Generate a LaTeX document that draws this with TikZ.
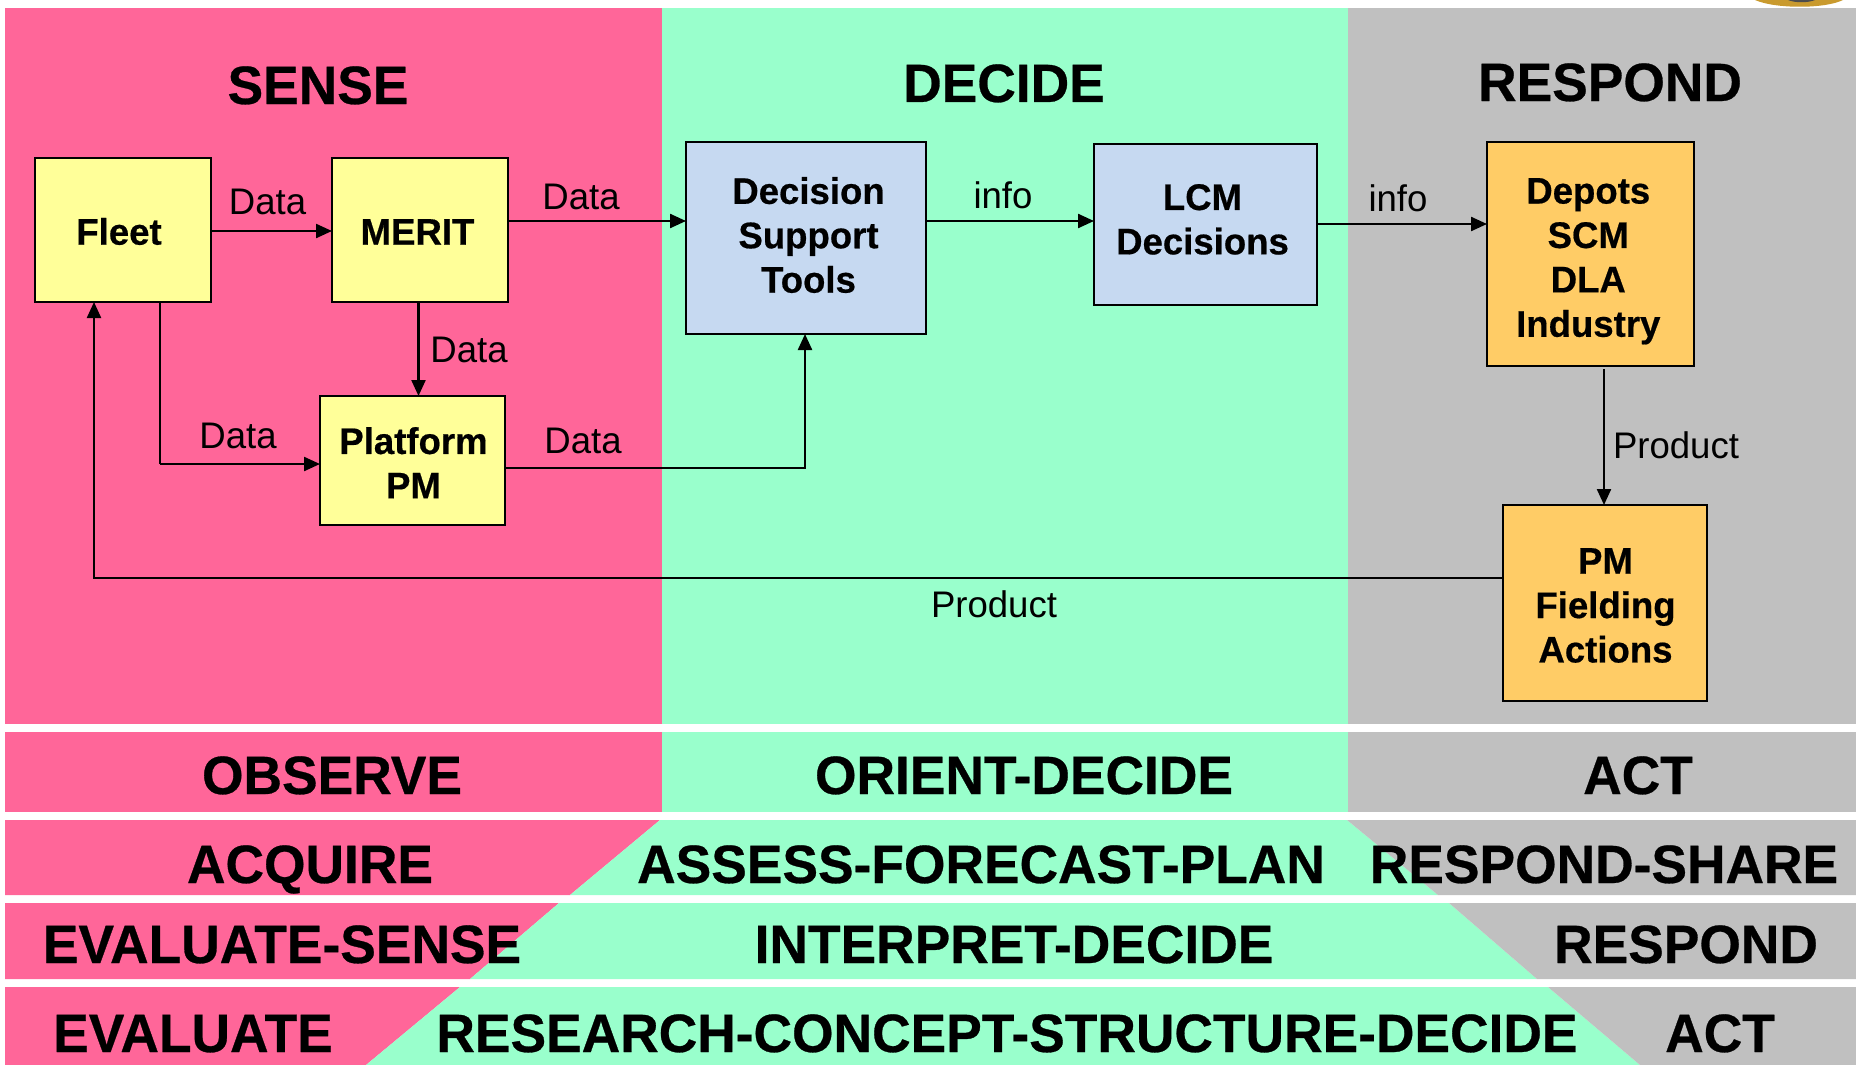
\documentclass[tikz,border=0pt]{standalone}
\usepackage{fontspec}
\setmainfont{Liberation Sans}[FakeStretch=0.988,BoldFeatures={FakeBold=0.5}]
\usetikzlibrary{arrows.meta}
\definecolor{pinkb}{HTML}{FF6699}
\definecolor{greenb}{HTML}{99FFCC}
\definecolor{greyb}{HTML}{C0C0C0}
\definecolor{yellowb}{HTML}{FFFF99}
\definecolor{blueb}{HTML}{C6D9F1}
\definecolor{orangeb}{HTML}{FFCC66}
\definecolor{goldb}{HTML}{C99A2E}
\newcommand\offtext[3]{\raisebox{#2}[0pt][0pt]{\makebox[0pt]{\hspace*{#1}\begin{tabular}[c]{@{}c@{}}#3\end{tabular}}}}
\tikzset{
  flowbox/.style={draw=black,line width=2pt,inner sep=0pt,outer sep=0pt,font=\fontsize{37}{44.4}\selectfont\bfseries,anchor=north west},
  yellowbox/.style={flowbox,fill=yellowb},
  bluebox/.style={flowbox,fill=blueb},
  orangebox/.style={flowbox,fill=orangeb},
  flowlabel/.style={font=\fontsize{37}{44}\selectfont,inner sep=0pt},
  bigtext/.style={font=\fontsize{54}{60}\selectfont\bfseries,inner sep=0pt,text height=39pt,text depth=0pt,yshift=1.5pt},
  arr/.style={draw=black,line width=2.3pt,-{Triangle[length=16pt,width=14pt]}},
  plain/.style={draw=black,line width=2.3pt}
}
\begin{document}
\begin{tikzpicture}[x=1pt,y=-1pt]
\useasboundingbox (0,0) rectangle (1856,1065);
% top panel
\fill[pinkb] (5,8) rectangle (663,724);
\fill[greenb] (662,8) rectangle (1348,724);
\fill[greyb] (1348,8) rectangle (1856,724);
% decoration at the top right
\fill[goldb] (1755,0) .. controls (1775,9) and (1825,9) .. (1843,0) -- cycle;
\fill[black!70] (1788,0) .. controls (1795,3) and (1808,3) .. (1815,0) -- cycle;
% OBSERVE band
\fill[pinkb] (5,732) rectangle (663,812);
\fill[greenb] (662,732) rectangle (1348,812);
\fill[greyb] (1348,732) rectangle (1856,812);
% ACQUIRE band
\fill[pinkb] (5,820) -- (660,820) -- (570,895) -- (5,895) -- cycle;
\fill[greenb] (660,820) -- (1347,820) -- (1438,895) -- (570,895) -- cycle;
\fill[greyb] (1347,820) -- (1856,820) -- (1856,895) -- (1438,895) -- cycle;
% EVALUATE-SENSE band
\fill[pinkb] (5,903) -- (559,903) -- (470,979) -- (5,979) -- cycle;
\fill[greenb] (559,903) -- (1449,903) -- (1537,979) -- (470,979) -- cycle;
\fill[greyb] (1449,903) -- (1856,903) -- (1856,979) -- (1537,979) -- cycle;
% EVALUATE band
\fill[pinkb] (5,987) -- (460,987) -- (366,1065) -- (5,1065) -- cycle;
\fill[greenb] (460,987) -- (1548,987) -- (1640,1065) -- (366,1065) -- cycle;
\fill[greyb] (1548,987) -- (1856,987) -- (1856,1065) -- (1640,1065) -- cycle;

% headings
\node[bigtext] (hsense) at (318,86) {SENSE};
\node[bigtext] (hdecide) at (1004,84) {DECIDE};
\node[bigtext] (hrespond) at (1610,83) {RESPOND};
\node[bigtext] (b1a) at (332,776) {OBSERVE};
\node[bigtext] (b1b) at (1024,776) {ORIENT-DECIDE};
\node[bigtext] (b1c) at (1638,776) {ACT};
\node[bigtext] (b2a) at (310,865) {ACQUIRE};
\node[bigtext] (b2b) at (981,865) {ASSESS-FORECAST-PLAN};
\node[bigtext] (b2c) at (1604,865) {RESPOND-SHARE};
\node[bigtext] (b3a) at (282,945) {EVALUATE-SENSE};
\node[bigtext] (b3b) at (1014,945) {INTERPRET-DECIDE};
\node[bigtext] (b3c) at (1686,945) {RESPOND};
\node[bigtext] (b4a) at (193,1034) {EVALUATE};
\node[bigtext] (b4b) at (1007,1034) {RESEARCH-CONCEPT-STRUCTURE-DECIDE};
\node[bigtext] (b4c) at (1720,1034) {ACT};

% boxes
\node[yellowbox,minimum width=176pt,minimum height=144pt] (fleet) at (35,158) {\offtext{-8pt}{-12pt}{Fleet}};
\node[yellowbox,minimum width=176pt,minimum height=144pt] (merit) at (332,158) {\offtext{-5pt}{-12pt}{MERIT}};
\node[yellowbox,minimum width=185pt,minimum height=129pt] (platform) at (320,396) {\offtext{2pt}{-13pt}{Platform\\PM}};
\node[bluebox,minimum width=240pt,minimum height=192pt] (dst) at (686,142) {\offtext{5pt}{-7.6pt}{Decision\\Support\\Tools}};
\node[bluebox,minimum width=223pt,minimum height=161pt] (lcm) at (1094,144) {\offtext{-6pt}{-5pt}{LCM\\Decisions}};
\node[orangebox,minimum width=207pt,minimum height=224pt] (depots) at (1487,142) {\offtext{-4.5pt}{-13.5pt}{Depots\\SCM\\DLA\\Industry}};
\node[orangebox,minimum width=204pt,minimum height=196pt] (fielding) at (1503,505) {\offtext{1pt}{-12.4pt}{PM\\Fielding\\Actions}};

% connector levels
\coordinate (fleetlevel) at (270,231);
\coordinate (meritlevel) at (600,221);
\coordinate (lcmlevel) at (1000,221);
\coordinate (depotlevel) at (1400,224);
\coordinate (meritdrop) at (418.5,350);
\coordinate (fleetdrop) at (160,464);
\coordinate (platformout) at (805,468);
\coordinate (productbend) at (94,578);
\coordinate (depotsfoot) at (1604,369);

% connectors
\draw[arr] (fleet.east |- fleetlevel) -- (merit.west |- fleetlevel);
\draw[arr] (merit.east |- meritlevel) -- (dst.west |- meritlevel);
\draw[arr] (meritdrop |- merit.south) -- (meritdrop |- platform.north);
\draw[plain] (fleetdrop |- fleet.south) -- (fleetdrop);
\draw[arr] (fleetdrop) -- (platform.west |- fleetdrop);
\draw[arr] (platform.east |- platformout) -- (platformout) -- (platformout |- dst.south);
\draw[arr] (dst.east |- lcmlevel) -- (lcm.west |- lcmlevel);
\draw[arr] (lcm.east |- depotlevel) -- (depots.west |- depotlevel);
\draw[arr] (depotsfoot) -- (depotsfoot |- fielding.north);
\draw[arr] (fielding.west |- productbend) -- (productbend) -- (productbend |- fleet.south);

% labels
\node[flowlabel] (l1) at (267.5,202) {Data};
\node[flowlabel] (l2) at (581,197) {Data};
\node[flowlabel] (l3) at (469,350) {Data};
\node[flowlabel] (l4) at (238,436) {Data};
\node[flowlabel] (l5) at (583,441) {Data};
\node[flowlabel] (l6) at (1003,195) {info};
\node[flowlabel] (l7) at (1398,198) {info};
\node[flowlabel] (l8) at (1676,445) {Product};
\node[flowlabel] (l9) at (994,604) {Product};
\end{tikzpicture}
\end{document}
